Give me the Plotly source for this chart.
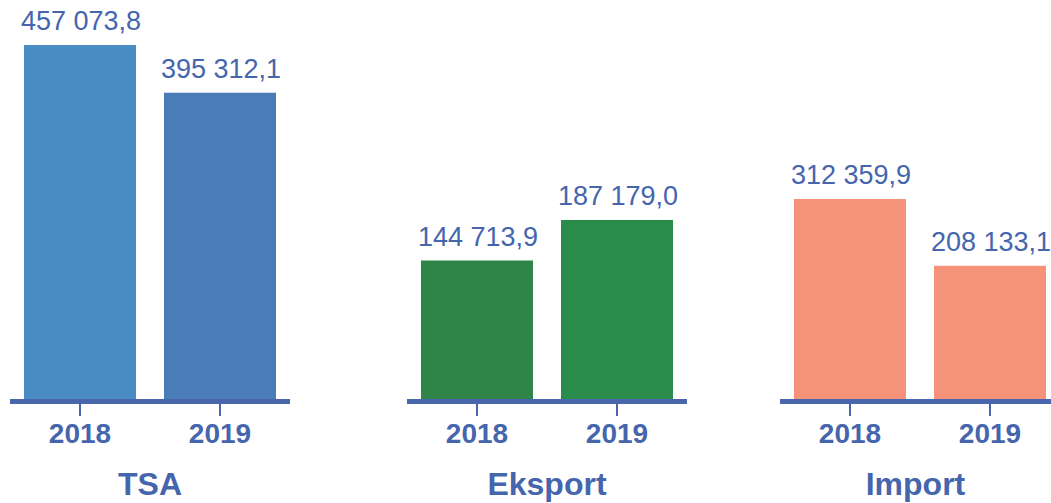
import plotly.graph_objects as go

years = ["2018", "2019"]
groups = ["TSA", "Eksport", "Import"]
tsa = [457073.8, 395312.1]
eksport = [144713.9, 187179.0]
import_ = [312359.9, 208133.1]
series = [tsa, eksport, import_]
colors = [["#4A8DC5", "#4A7DB8"], ["#2E8547", "#2A8C4B"], ["#F5927A", "#F5927A"]]

TEXT = "#4565AD"
LINE = "#4A67AD"
W, H = 1051, 503

def fmt(v):
    return f"{v:,.1f}".replace(",", " ").replace(".", ",")

fig = go.Figure()
domains = [[10/W, 290/W], [407/W, 687/W], [780/W, 1.0]]
xranges = [[-0.5, 1.5], [-0.5, 1.5], [-0.5, 1.5 - 9/140]]
yranges = [[0, 502300], [0, 406800], [0, 607500]]

for i, (g, vals) in enumerate(zip(groups, series)):
    ax = "" if i == 0 else str(i + 1)
    fig.add_trace(go.Bar(
        x=years, y=vals, marker=dict(color=colors[i], line=dict(width=0)),
        xaxis="x" + ax, yaxis="y" + ax, showlegend=False, hoverinfo="skip"))
    for j, v in enumerate(vals):
        fig.add_annotation(
            x=j, y=v, xref="x" + ax, yref="y" + ax, text=fmt(v),
            showarrow=False, xanchor="left", yanchor="bottom", xshift=-61, yshift=7,
            font=dict(family="Liberation Sans, Arial", size=27, color=TEXT))
    fig.layout["xaxis" + ax] = dict(
        domain=domains[i], range=xranges[i], type="category", anchor="y" + ax,
        showline=True, linewidth=5, linecolor=LINE, ticks="outside", ticklen=12,
        tickwidth=1.5, tickcolor=LINE, showgrid=False, zeroline=False,
        ticklabelstandoff=-7,
        tickfont=dict(family="Liberation Sans, Arial", size=28, color=TEXT, weight="bold"),
        title=dict(text="<b>" + g + "</b>", standoff=27,
                   font=dict(family="Liberation Sans, Arial", size=32, color=TEXT)))
    fig.layout["yaxis" + ax] = dict(
        range=yranges[i], visible=False, anchor="x" + ax, fixedrange=True)

fig.update_layout(
    width=W, height=H, bargap=0.2,
    margin=dict(l=0, r=0, t=10, b=104),
    paper_bgcolor="white", plot_bgcolor="white",
)
fig.write_html(
    "out.html",
    config={"displayModeBar": False},
    post_script="document.body.style.margin='0';document.body.style.overflow='hidden';",
)
